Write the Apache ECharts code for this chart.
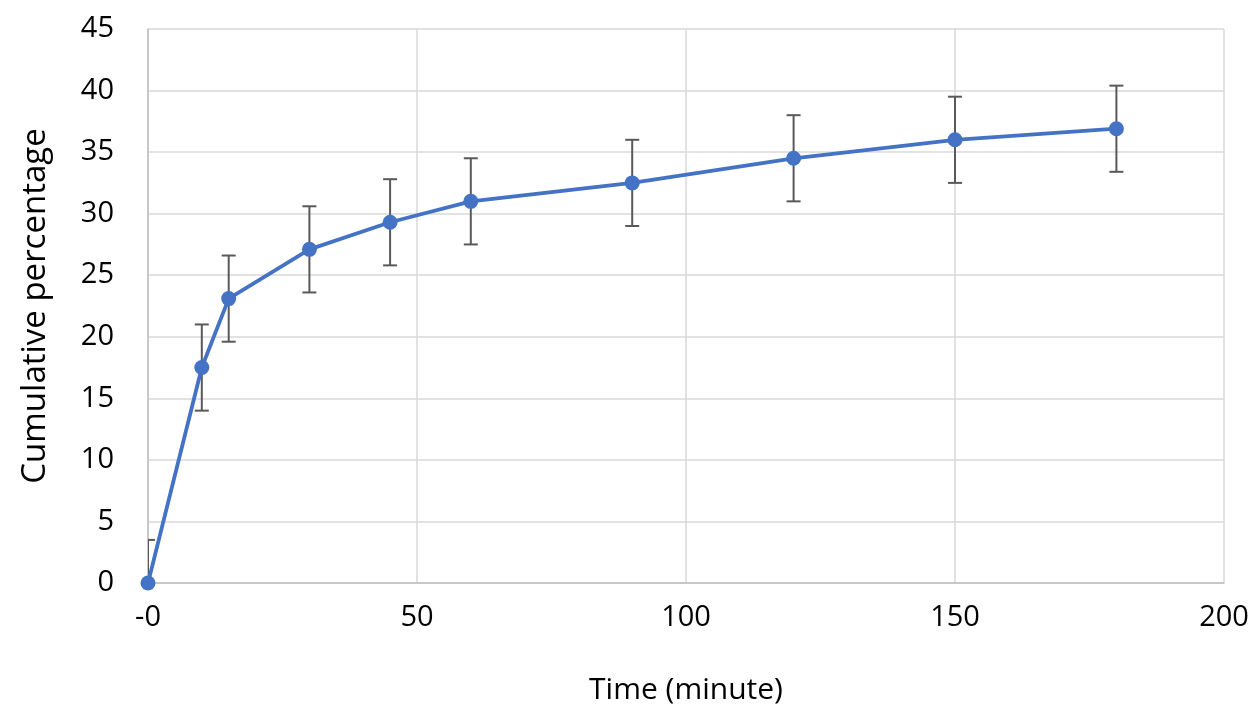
<!DOCTYPE html>
<html>
<head>
<meta charset="utf-8">
<script src="https://cdn.jsdelivr.net/npm/echarts@6/dist/echarts.min.js"></script>
<style>html,body{margin:0;padding:0;background:#fff}#c{width:1258px;height:718px}</style>
</head>
<body>
<div id="c"></div>
<script>
const times = [0, 10, 15, 30, 45, 60, 90, 120, 150, 180];
const cumulative = [0, 17.5, 23.1, 27.1, 29.3, 31.0, 32.5, 34.5, 36.0, 36.9];
const errors = [3.5, 3.5, 3.5, 3.5, 3.5, 3.5, 3.5, 3.5, 3.5, 3.5];
const xTitle = 'Time (minute)';
const yTitle = 'Cumulative percentage';

const font = '"Open Sans", "Noto Sans", sans-serif';
const chart = echarts.init(document.getElementById('c'));
const lineData = times.map((t, i) => [t, cumulative[i]]);
const errData = times.map((t, i) => [t, cumulative[i] - errors[i], cumulative[i] + errors[i]]);

chart.setOption({
  animation: false,
  grid: { left: 148, right: 34, top: 29, bottom: 135, containLabel: false },
  xAxis: {
    type: 'value', min: 0, max: 200, interval: 50,
    name: xTitle, nameLocation: 'middle', nameGap: 92,
    nameTextStyle: { fontFamily: font, fontSize: 30, color: '#000' },
    axisLine: { show: true, onZero: false, lineStyle: { color: '#BFBFBF', width: 1.5 } },
    axisTick: { show: false },
    axisLabel: { fontFamily: font, fontSize: 29, color: '#000', margin: 20,
      formatter: v => v === 0 ? '-0' : String(v) },
    splitLine: { show: true, lineStyle: { color: '#D9D9D9', width: 1.5 } }
  },
  yAxis: {
    type: 'value', min: 0, max: 45, interval: 5,
    name: yTitle, nameLocation: 'middle', nameGap: 96, nameRotate: 90,
    nameTextStyle: { fontFamily: font, fontSize: 33, color: '#000' },
    axisLine: { show: true, lineStyle: { color: '#BFBFBF', width: 1.5 } },
    axisTick: { show: false },
    axisLabel: { fontFamily: font, fontSize: 29, color: '#000', margin: 34 },
    splitLine: { show: true, lineStyle: { color: '#D9D9D9', width: 1.5 } }
  },
  series: [
    {
      type: 'custom',
      clip: true,
      z: 1,
      renderItem: function (params, api) {
        const x = api.value(0);
        const lo = api.coord([x, api.value(1)]);
        const hi = api.coord([x, api.value(2)]);
        const hw = 7;
        const style = { stroke: '#595959', lineWidth: 2, fill: null };
        return {
          type: 'group',
          children: [
            { type: 'line', shape: { x1: lo[0], y1: lo[1], x2: hi[0], y2: hi[1] }, style },
            { type: 'line', shape: { x1: hi[0] - hw, y1: hi[1], x2: hi[0] + hw, y2: hi[1] }, style },
            { type: 'line', shape: { x1: lo[0] - hw, y1: lo[1], x2: lo[0] + hw, y2: lo[1] }, style }
          ]
        };
      },
      encode: { x: 0, y: [1, 2] },
      data: errData
    },
    {
      type: 'line',
      z: 2,
      data: lineData,
      symbol: 'circle',
      symbolSize: 15,
      lineStyle: { color: '#4472C4', width: 3.8 },
      itemStyle: { color: '#4472C4' },
      clip: false
    }
  ]
});
</script>
</body>
</html>
